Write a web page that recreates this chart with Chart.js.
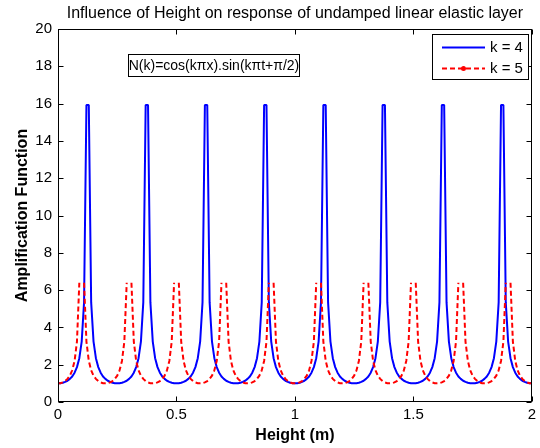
<!DOCTYPE html>
<html><head><meta charset="utf-8">
<script src="https://cdn.jsdelivr.net/npm/chart.js@4/dist/chart.umd.min.js"></script>
<style>html,body{margin:0;padding:0;background:#fff}canvas{display:block}</style>
</head><body>
<canvas id="c" width="540" height="448"></canvas>
<script>
// ---- data ----
const heights = [
  0.00,0.01,0.02,0.03,0.04,0.05,0.06,0.07,0.08,0.09,0.10,0.11,0.12,0.13,0.14,0.15,0.16,0.17,0.18,0.19,
  0.20,0.21,0.22,0.23,0.24,0.25,0.26,0.27,0.28,0.29,0.30,0.31,0.32,0.33,0.34,0.35,0.36,0.37,0.38,0.39,
  0.40,0.41,0.42,0.43,0.44,0.45,0.46,0.47,0.48,0.49,0.50,0.51,0.52,0.53,0.54,0.55,0.56,0.57,0.58,0.59,
  0.60,0.61,0.62,0.63,0.64,0.65,0.66,0.67,0.68,0.69,0.70,0.71,0.72,0.73,0.74,0.75,0.76,0.77,0.78,0.79,
  0.80,0.81,0.82,0.83,0.84,0.85,0.86,0.87,0.88,0.89,0.90,0.91,0.92,0.93,0.94,0.95,0.96,0.97,0.98,0.99,
  1.00,1.01,1.02,1.03,1.04,1.05,1.06,1.07,1.08,1.09,1.10,1.11,1.12,1.13,1.14,1.15,1.16,1.17,1.18,1.19,
  1.20,1.21,1.22,1.23,1.24,1.25,1.26,1.27,1.28,1.29,1.30,1.31,1.32,1.33,1.34,1.35,1.36,1.37,1.38,1.39,
  1.40,1.41,1.42,1.43,1.44,1.45,1.46,1.47,1.48,1.49,1.50,1.51,1.52,1.53,1.54,1.55,1.56,1.57,1.58,1.59,
  1.60,1.61,1.62,1.63,1.64,1.65,1.66,1.67,1.68,1.69,1.70,1.71,1.72,1.73,1.74,1.75,1.76,1.77,1.78,1.79,
  1.80,1.81,1.82,1.83,1.84,1.85,1.86,1.87,1.88,1.89,1.90,1.91,1.92,1.93,1.94,1.95,1.96,1.97,1.98,1.99,
  2.00
];
// k = 4 (solid blue)
const ampK4 = [
  1.00,1.01,1.03,1.08,1.14,1.24,1.37,1.57,1.87,2.35,3.24,5.34,15.93,15.93,5.34,3.24,2.35,1.87,1.57,1.37,1.24,1.14,1.08,1.03,1.01,
  1.00,1.01,1.03,1.08,1.14,1.24,1.37,1.57,1.87,2.35,3.24,5.34,15.93,15.93,5.34,3.24,2.35,1.87,1.57,1.37,1.24,1.14,1.08,1.03,1.01,
  1.00,1.01,1.03,1.08,1.14,1.24,1.37,1.57,1.87,2.35,3.24,5.34,15.93,15.93,5.34,3.24,2.35,1.87,1.57,1.37,1.24,1.14,1.08,1.03,1.01,
  1.00,1.01,1.03,1.08,1.14,1.24,1.37,1.57,1.87,2.35,3.24,5.34,15.93,15.93,5.34,3.24,2.35,1.87,1.57,1.37,1.24,1.14,1.08,1.03,1.01,
  1.00,1.01,1.03,1.08,1.14,1.24,1.37,1.57,1.87,2.35,3.24,5.34,15.93,15.93,5.34,3.24,2.35,1.87,1.57,1.37,1.24,1.14,1.08,1.03,1.01,
  1.00,1.01,1.03,1.08,1.14,1.24,1.37,1.57,1.87,2.35,3.24,5.34,15.93,15.93,5.34,3.24,2.35,1.87,1.57,1.37,1.24,1.14,1.08,1.03,1.01,
  1.00,1.01,1.03,1.08,1.14,1.24,1.37,1.57,1.87,2.35,3.24,5.34,15.93,15.93,5.34,3.24,2.35,1.87,1.57,1.37,1.24,1.14,1.08,1.03,1.01,
  1.00,1.01,1.03,1.08,1.14,1.24,1.37,1.57,1.87,2.35,3.24,5.34,15.93,15.93,5.34,3.24,2.35,1.87,1.57,1.37,1.24,1.14,1.08,1.03,1.01,
  1.00
];
// k = 5 (dashed red); null = unbounded value at resonance (line break)
const ampK5 = [
  1.00,1.01,1.05,1.12,1.24,1.41,1.70,2.20,3.24,6.39,null,6.39,3.24,2.20,1.70,1.41,1.24,1.12,1.05,1.01,
  1.00,1.01,1.05,1.12,1.24,1.41,1.70,2.20,3.24,6.39,null,6.39,3.24,2.20,1.70,1.41,1.24,1.12,1.05,1.01,
  1.00,1.01,1.05,1.12,1.24,1.41,1.70,2.20,3.24,6.39,null,6.39,3.24,2.20,1.70,1.41,1.24,1.12,1.05,1.01,
  1.00,1.01,1.05,1.12,1.24,1.41,1.70,2.20,3.24,6.39,null,6.39,3.24,2.20,1.70,1.41,1.24,1.12,1.05,1.01,
  1.00,1.01,1.05,1.12,1.24,1.41,1.70,2.20,3.24,6.39,null,6.39,3.24,2.20,1.70,1.41,1.24,1.12,1.05,1.01,
  1.00,1.01,1.05,1.12,1.24,1.41,1.70,2.20,3.24,6.39,null,6.39,3.24,2.20,1.70,1.41,1.24,1.12,1.05,1.01,
  1.00,1.01,1.05,1.12,1.24,1.41,1.70,2.20,3.24,6.39,null,6.39,3.24,2.20,1.70,1.41,1.24,1.12,1.05,1.01,
  1.00,1.01,1.05,1.12,1.24,1.41,1.70,2.20,3.24,6.39,null,6.39,3.24,2.20,1.70,1.41,1.24,1.12,1.05,1.01,
  1.00,1.01,1.05,1.12,1.24,1.41,1.70,2.20,3.24,6.39,null,6.39,3.24,2.20,1.70,1.41,1.24,1.12,1.05,1.01,
  1.00,1.01,1.05,1.12,1.24,1.41,1.70,2.20,3.24,6.39,null,6.39,3.24,2.20,1.70,1.41,1.24,1.12,1.05,1.01,
  1.00
];
const xTicks = [0, 0.5, 1, 1.5, 2];
const xTickLabels = ['0', '0.5', '1', '1.5', '2'];
const yTicks = [0, 2, 4, 6, 8, 10, 12, 14, 16, 18, 20];
const seriesNames = ['k = 4', 'k = 5'];
const chartTitle = 'Influence of Height on response of undamped linear elastic layer';
const xLabel = 'Height (m)';
const yLabel = 'Amplification Function';
const noteText = 'N(k)=cos(k\u03C0x).sin(k\u03C0t+\u03C0/2)';

// ---- chart ----
const FONT = '"Liberation Sans", Arial, Helvetica, sans-serif';
Chart.defaults.font.family = FONT;
Chart.defaults.color = '#000';

const toPts = (ys) => heights.map((h, i) => ({x: h, y: ys[i]}));

const frame = {
  id: 'frame',
  afterDraw(chart) {
    const {ctx, chartArea: a, scales: {x, y}} = chart;
    ctx.save();
    ctx.strokeStyle = '#000';
    ctx.lineWidth = 1;
    const L = Math.round(a.left) + 0.5, R = Math.round(a.right) - 0.5;
    const T = Math.round(a.top) + 0.5, B = Math.round(a.bottom) - 0.5;
    ctx.strokeRect(L, T, R - L, B - T);
    ctx.beginPath();
    const tl = 5;
    xTicks.forEach(v => {
      const px = Math.round(x.getPixelForValue(v)) + 0.5;
      ctx.moveTo(px, B); ctx.lineTo(px, B - tl);
      ctx.moveTo(px, T); ctx.lineTo(px, T + tl);
    });
    yTicks.forEach(v => {
      const py = Math.round(y.getPixelForValue(v)) + 0.5;
      ctx.moveTo(L, py); ctx.lineTo(L + tl, py);
      ctx.moveTo(R, py); ctx.lineTo(R - tl, py);
    });
    ctx.stroke();

    // annotation box
    ctx.fillStyle = '#fff';
    ctx.fillRect(129, 55, 170, 21);
    ctx.strokeRect(128.5, 54.5, 171, 22);
    ctx.fillStyle = '#000';
    ctx.font = '14px ' + FONT;
    ctx.textAlign = 'center';
    ctx.textBaseline = 'middle';
    ctx.fillText(noteText, 214, 66);

    // legend
    ctx.fillStyle = '#fff';
    ctx.fillRect(433, 35, 95, 44);
    ctx.strokeRect(432.5, 34.5, 96, 45);
    const rows = [
      {color: '#0000ff', dash: [], y: 47.5, dot: false},
      {color: '#ff0000', dash: [5, 3], y: 68.5, dot: true}
    ];
    rows.forEach((r, i) => {
      ctx.save();
      ctx.strokeStyle = r.color;
      ctx.lineWidth = 2;
      ctx.setLineDash(r.dash);
      ctx.beginPath();
      ctx.moveTo(442, r.y); ctx.lineTo(485, r.y);
      ctx.stroke();
      if (r.dot) {
        ctx.fillStyle = r.color;
        ctx.beginPath(); ctx.arc(463.5, r.y, 2.5, 0, Math.PI * 2); ctx.fill();
      }
      ctx.restore();
      ctx.fillStyle = '#000';
      ctx.font = '15px ' + FONT;
      ctx.textAlign = 'left';
      ctx.textBaseline = 'middle';
      ctx.fillText(seriesNames[i], 490, r.y + 0.5);
    });
    ctx.restore();
  }
};

new Chart(document.getElementById('c'), {
  type: 'line',
  data: {
    datasets: [
      {label: seriesNames[0], data: toPts(ampK4), borderColor: '#0000ff', borderWidth: 2,
       pointRadius: 0, tension: 0, fill: false, borderJoinStyle: 'bevel', order: 1},
      {label: seriesNames[1], data: toPts(ampK5), borderColor: '#ff0000', borderWidth: 2,
       borderDash: [5, 3], pointRadius: 0, tension: 0, fill: false, spanGaps: false, order: 0}
    ]
  },
  options: {
    responsive: false,
    animation: false,
    devicePixelRatio: 1,
    layout: {padding: {left: 0, right: 7, top: 0, bottom: 0}},
    plugins: {
      legend: {display: false},
      tooltip: {enabled: false},
      title: {display: true, text: chartTitle, fullSize: false,
        font: {size: 16, weight: 'normal', family: FONT}, color: '#000',
        padding: {top: 3.5, bottom: 6.3}}
    },
    scales: {
      x: {
        type: 'linear', min: 0, max: 2,
        afterBuildTicks: (s) => { s.ticks = xTicks.map(v => ({value: v})); },
        afterFit: (s) => { s.height = 46; },
        grid: {display: false, drawTicks: false},
        border: {display: false},
        ticks: {font: {size: 15, family: FONT}, color: '#000', padding: 4, maxRotation: 0,
          callback: (v, i) => xTickLabels[i]},
        title: {display: true, text: xLabel, font: {size: 16, weight: 'bold', family: FONT},
          color: '#000', padding: {top: 0, bottom: 2.4}}
      },
      y: {
        type: 'linear', min: 0, max: 20,
        afterBuildTicks: (s) => { s.ticks = yTicks.map(v => ({value: v})); },
        afterFit: (s) => { s.width = 58; },
        grid: {display: false, drawTicks: false},
        border: {display: false},
        ticks: {font: {size: 15, family: FONT}, color: '#000', padding: 6},
        title: {display: true, text: yLabel, font: {size: 16, weight: 'bold', family: FONT},
          color: '#000', padding: {top: 13, bottom: 0}}
      }
    }
  },
  plugins: [frame]
});
</script>
</body></html>
